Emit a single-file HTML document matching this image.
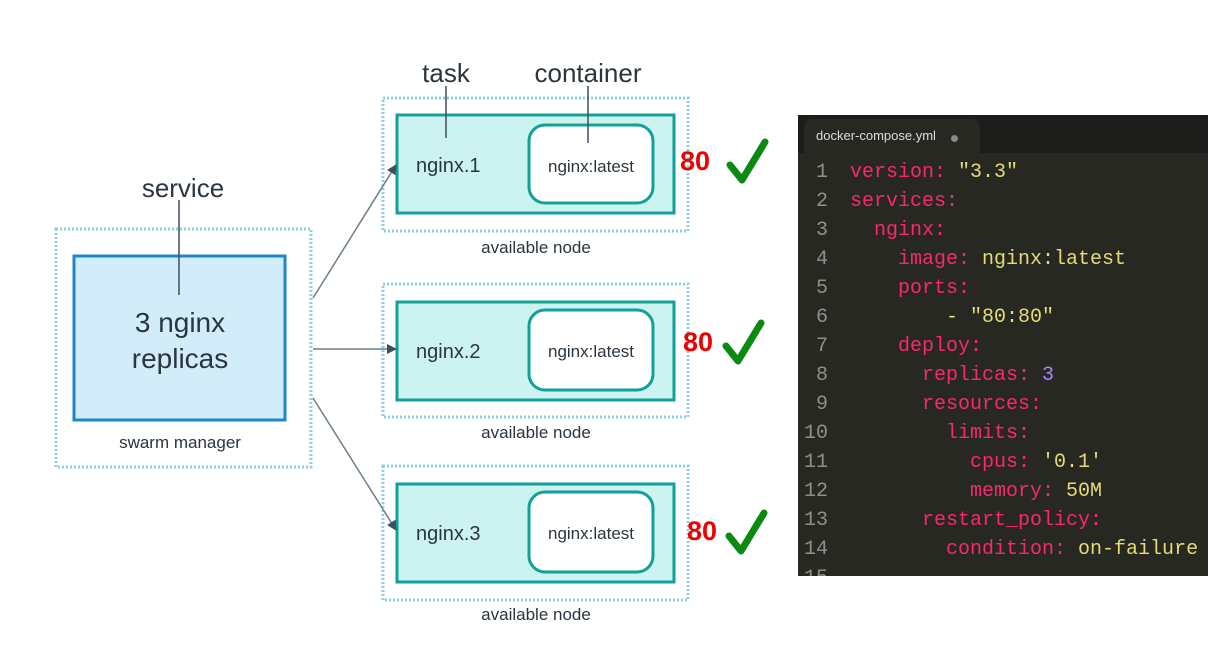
<!DOCTYPE html>
<html><head><meta charset="utf-8"><style>
body{margin:0;width:1223px;height:646px;background:#fff;overflow:hidden;position:relative;font-family:"Liberation Sans",sans-serif}
.code{position:absolute;left:798px;top:115px;width:410px;height:461px;background:#272822;overflow:hidden}
.tabbar{position:absolute;left:0;top:0;width:410px;height:38px;background:#1c1c1a}
.tab{position:absolute;left:6px;top:4px;width:176px;height:36px;background:#272822;border-radius:8px 8px 0 0}
.tab span{position:absolute;left:12px;top:9px;color:#ddd;font-size:13px}
.tab i{position:absolute;left:147px;top:16px;width:7px;height:7px;border-radius:50%;background:#888}
.ln{position:absolute;left:0;width:30px;text-align:right;color:#8f908a;font:20px "Liberation Mono",monospace}
.cl{position:absolute;left:52px;white-space:pre;font:20px "Liberation Mono",monospace;color:#f92672}
.y{color:#e6db74}.p{color:#ae81ff}
</style></head><body>
<svg width="1223" height="646" style="position:absolute;left:0;top:0">
<defs><marker id="a" markerWidth="10" markerHeight="10" refX="9" refY="5" orient="auto" markerUnits="userSpaceOnUse"><path d="M0,0 L10,5 L0,10 z" fill="#3d4f5f"/></marker></defs>
<g fill="none" stroke="#8fd0de" stroke-width="3" stroke-dasharray="2 2">
<rect x="56" y="229" width="255" height="238"/>
<rect x="383" y="98" width="305" height="133"/>
<rect x="383" y="284" width="305" height="133"/>
<rect x="383" y="466" width="305" height="134"/>
</g>
<rect x="74" y="256" width="211" height="164" fill="#d2edf9" stroke="#1f86c8" stroke-width="3"/>
<g fill="#cdf3f1" stroke="#11a09a" stroke-width="3">
<rect x="397" y="115" width="277" height="98"/>
<rect x="397" y="302" width="277" height="98"/>
<rect x="397" y="484" width="277" height="98"/>
</g>
<g fill="#fff" stroke="#11a09a" stroke-width="3">
<rect x="529" y="125" width="124" height="78" rx="16"/>
<rect x="529" y="310" width="124" height="80" rx="16"/>
<rect x="529" y="492" width="124" height="80" rx="16"/>
</g>
<g stroke="#3d4f5f" stroke-width="1.5">
<line x1="179" y1="200" x2="179" y2="295"/>
<line x1="446" y1="86" x2="446" y2="138"/>
<line x1="588" y1="86" x2="588" y2="143"/>
</g>
<g stroke="#6c7d8a" stroke-width="1.5" marker-end="url(#a)">
<line x1="313" y1="298" x2="396" y2="165"/>
<line x1="313" y1="349" x2="396" y2="349"/>
<line x1="313" y1="398" x2="396" y2="530"/>
</g>
<g font-family="Liberation Sans" fill="#2a3540">
<text x="183" y="197" font-size="26" text-anchor="middle">service</text>
<text x="446" y="82" font-size="26" text-anchor="middle">task</text>
<text x="588" y="82" font-size="26" text-anchor="middle">container</text>
<text x="180" y="332" font-size="28" text-anchor="middle">3 nginx</text>
<text x="180" y="368" font-size="28" text-anchor="middle">replicas</text>
<text x="180" y="448" font-size="17" text-anchor="middle">swarm manager</text>
<text x="416" y="172" font-size="20">nginx.1</text>
<text x="416" y="358" font-size="20">nginx.2</text>
<text x="416" y="540" font-size="20">nginx.3</text>
<text x="591" y="172" font-size="17" text-anchor="middle">nginx:latest</text>
<text x="591" y="357" font-size="17" text-anchor="middle">nginx:latest</text>
<text x="591" y="539" font-size="17" text-anchor="middle">nginx:latest</text>
<text x="536" y="253" font-size="17" text-anchor="middle">available node</text>
<text x="536" y="438" font-size="17" text-anchor="middle">available node</text>
<text x="536" y="620" font-size="17" text-anchor="middle">available node</text>
</g>
<g fill="#ee0000" font-weight="bold" font-size="27" font-family="Liberation Sans">
<text x="680" y="170">80</text><text x="683" y="351">80</text><text x="687" y="540">80</text>
</g>
<g fill="none" stroke="#0b8a12" stroke-width="7" stroke-linecap="round" stroke-linejoin="round">
<path d="M730,165 L742,180 L765,142"/>
<path d="M726,346 L738,361 L761,323"/>
<path d="M729,536 L741,551 L764,513"/>
</g>
</svg>
<div class="code">
<div class="tabbar"><div class="tab"><span>docker-compose.yml</span><i></i></div></div>
<div class="ln" style="top:46px">1</div><div class="cl" style="top:46px">version: <span class="y">"3.3"</span></div>
<div class="ln" style="top:75px">2</div><div class="cl" style="top:75px">services:</div>
<div class="ln" style="top:104px">3</div><div class="cl" style="top:104px">  nginx:</div>
<div class="ln" style="top:133px">4</div><div class="cl" style="top:133px">    image: <span class="y">nginx:latest</span></div>
<div class="ln" style="top:162px">5</div><div class="cl" style="top:162px">    ports:</div>
<div class="ln" style="top:191px">6</div><div class="cl" style="top:191px"><span class="y">        - "80:80"</span></div>
<div class="ln" style="top:220px">7</div><div class="cl" style="top:220px">    deploy:</div>
<div class="ln" style="top:249px">8</div><div class="cl" style="top:249px">      replicas: <span class="p">3</span></div>
<div class="ln" style="top:278px">9</div><div class="cl" style="top:278px">      resources:</div>
<div class="ln" style="top:307px">10</div><div class="cl" style="top:307px">        limits:</div>
<div class="ln" style="top:336px">11</div><div class="cl" style="top:336px">          cpus: <span class="y">'0.1'</span></div>
<div class="ln" style="top:365px">12</div><div class="cl" style="top:365px">          memory: <span class="y">50M</span></div>
<div class="ln" style="top:394px">13</div><div class="cl" style="top:394px">      restart_policy:</div>
<div class="ln" style="top:423px">14</div><div class="cl" style="top:423px">        condition: <span class="y">on-failure</span></div>
<div class="ln" style="top:452px">15</div>
</div>
</body></html>
